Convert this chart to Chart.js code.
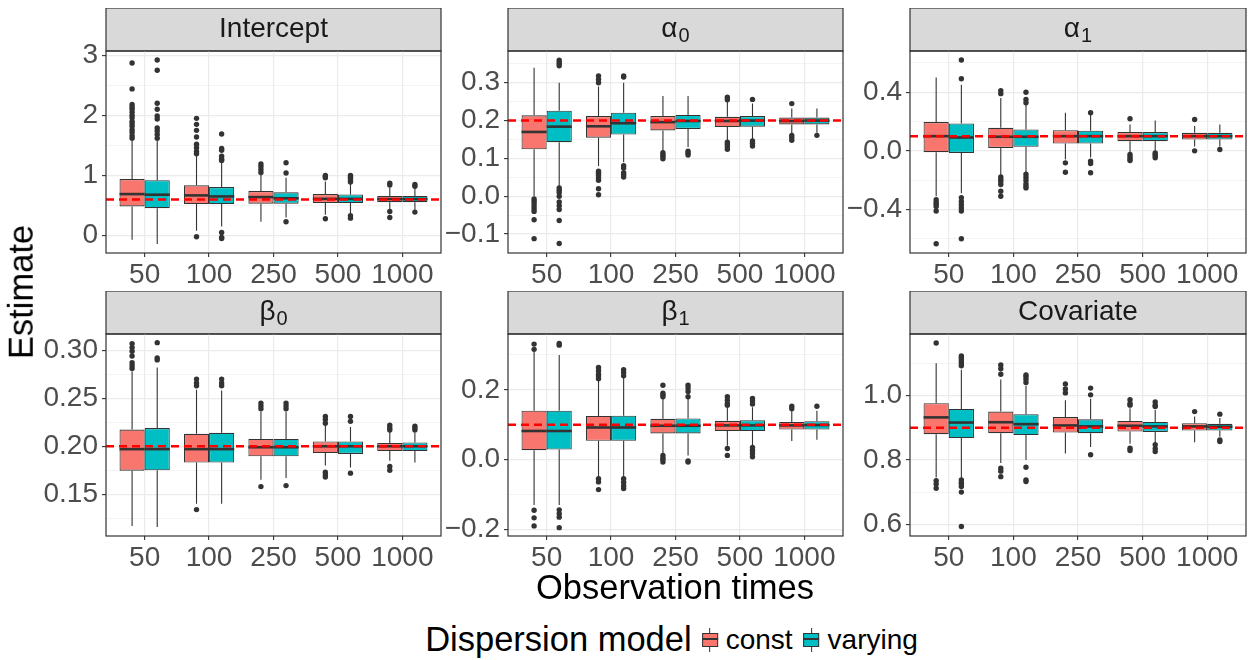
<!DOCTYPE html>
<html>
<head>
<meta charset="utf-8">
<script src="https://cdn.jsdelivr.net/npm/chart.js@4.4.0/dist/chart.umd.min.js"></script>
<style>
  body { margin: 0; background: #fff; width: 1248px; height: 660px; position: relative; overflow: hidden;
         font-family: "Liberation Sans", Arial, sans-serif; }
  canvas { position: absolute; }
  .title { position: absolute; color: #000; font-size: 34.5px; white-space: nowrap; line-height: 1; }
  #legend { position: absolute; left: 675px; top: 620px; transform: translateX(-50%); display: flex;
            align-items: center; white-space: nowrap; }
  #legend .lab { font-size: 28px; color: #000; margin-right: 7px; }
  .key { position: relative; width: 16px; height: 24px; margin: 0 8px 0 4px; }
  .key .wh { position: absolute; left: 7.5px; top: 0; width: 1px; height: 24px; background: #333; }
  .key .bx { position: absolute; left: 0; top: 5px; width: 14px; height: 12px; border: 1px solid #333; }
  .key .md { position: absolute; left: 0; top: 10px; width: 16px; height: 2px; background: #333; }
</style>
</head>
<body>
<div id="plots"></div>
<div class="title" style="left:675px; top:570px; transform: translateX(-50%);">Observation times</div>
<div class="title" style="left:21px; top:292px; transform: translate(-50%,-50%) rotate(-90deg);">Estimate</div>
<div id="legend">
  <span style="font-size:34.5px; margin-right:6px;">Dispersion model</span>
  <div class="key"><div class="wh"></div><div class="bx" style="background:#F8766D"></div><div class="md"></div></div>
  <span class="lab">const</span>
  <div class="key"><div class="wh"></div><div class="bx" style="background:#00BFC4"></div><div class="md"></div></div>
  <span class="lab">varying</span>
</div>

<script>
// --- Data ---
const categories = ['50', '100', '250', '500', '1000'];
const seriesNames = ['const', 'varying'];
const seriesColors = ['#F8766D', '#00BFC4'];

const titleMain = ['Intercept', 'α', 'α', 'β', 'β', 'Covariate'];
const titleSub = ['', '0', '1', '0', '1', ''];
const trueValues = [0.6, 0.2, 0.1, 0.2, 0.1, 0.9];

// axis ranges and ticks
const yMin = [-0.29, -0.150, -0.697, 0.1065, -0.219, 0.5636];
const yMax = [3.07, 0.384, 0.681, 0.317, 0.360, 1.191];
const yMajor = [[0, 1, 2, 3], [-0.1, 0, 0.1, 0.2, 0.3], [-0.4, 0, 0.4],
                [0.15, 0.20, 0.25, 0.30], [-0.2, 0, 0.2], [0.6, 0.8, 1.0]];
const yMajorLabels = [['0', '1', '2', '3'], ['−0.1', '0.0', '0.1', '0.2', '0.3'], ['−0.4', '0.0', '0.4'],
                      ['0.15', '0.20', '0.25', '0.30'], ['−0.2', '0.0', '0.2'], ['0.6', '0.8', '1.0']];
const yMinor = [[0.5, 1.5, 2.5], [-0.05, 0.05, 0.15, 0.25, 0.35], [-0.6, -0.2, 0.2, 0.6],
                [0.125, 0.175, 0.225, 0.275], [-0.1, 0.1, 0.3], [0.7, 0.9, 1.1]];

// box stats per category: [lower whisker, q1, median, q3, upper whisker]
const interceptConst = [[-0.07, 0.484, 0.69, 0.94, 1.60], [0.08, 0.523, 0.668, 0.835, 1.33], [0.23, 0.53, 0.64, 0.74, 1.02],
                        [0.345, 0.54, 0.61, 0.69, 0.90], [0.42, 0.555, 0.607, 0.66, 0.80]];
const interceptVarying = [[-0.14, 0.456, 0.68, 0.92, 1.60], [0.15, 0.523, 0.651, 0.807, 1.23], [0.30, 0.53, 0.62, 0.72, 0.96],
                          [0.37, 0.54, 0.61, 0.685, 0.86], [0.43, 0.555, 0.607, 0.66, 0.80]];
const interceptConstOut = [[2.87, 2.44, 2.18, 2.14, 2.10, 2.05, 2.0, 1.96, 1.90, 1.86, 1.82, 1.76, 1.72, 1.66, 1.62],
                           [1.95, 1.85, 1.75, 1.64, 1.52, 1.46, 1.40, 1.36, -0.02], [1.19, 1.15, 1.10, 1.05],
                           [1.0, 0.98, 0.96, 0.28], [0.87, 0.84, 0.40, 0.30]];
const interceptVaryingOut = [[2.92, 2.75, 2.20, 2.10, 1.99, 1.94, 1.79, 1.74, 1.68, 1.62],
                             [1.69, 1.45, 1.42, 1.32, 1.27, 1.25, 0.05, -0.03, -0.05], [1.21, 1.04, 0.23],
                             [1.0, 0.98, 0.96, 0.94, 0.91, 0.89, 0.33, 0.29], [0.85, 0.82, 0.39]];

const alpha0Const = [[0.0, 0.124, 0.170, 0.214, 0.34], [0.08, 0.155, 0.185, 0.212, 0.29], [0.12, 0.174, 0.196, 0.212, 0.265],
                     [0.145, 0.183, 0.199, 0.210, 0.25], [0.165, 0.19, 0.199, 0.208, 0.232]];
const alpha0Varying = [[0.025, 0.143, 0.184, 0.226, 0.30], [0.09, 0.163, 0.193, 0.221, 0.30], [0.13, 0.178, 0.199, 0.215, 0.265],
                       [0.15, 0.184, 0.200, 0.212, 0.245], [0.168, 0.19, 0.200, 0.208, 0.232]];
const alpha0ConstOut = [[-0.007, -0.013, -0.02, -0.027, -0.034, -0.04, -0.062, -0.112],
                        [0.318, 0.309, 0.30, 0.066, 0.061, 0.055, 0.048, 0.042, 0.02, 0.004],
                        [0.115, 0.11, 0.105, 0.099], [0.262, 0.255, 0.143, 0.137, 0.131, 0.124], [0.245, 0.161, 0.155, 0.148]];
const alpha0VaryingOut = [[0.36, 0.355, 0.35, 0.345, 0.022, 0.016, 0.01, 0.0, -0.015, -0.025, -0.035, -0.064, -0.125],
                          [0.318, 0.315, 0.081, 0.075, 0.062, 0.057, 0.051], [0.119, 0.114, 0.109],
                          [0.256, 0.146, 0.14, 0.133], [0.161]];

const alpha1Const = [[-0.31, -0.009, 0.10, 0.196, 0.50], [-0.17, 0.02, 0.096, 0.157, 0.36], [-0.06, 0.05, 0.10, 0.141, 0.26],
                     [-0.01, 0.066, 0.10, 0.128, 0.18], [0.03, 0.077, 0.10, 0.123, 0.17]];
const alpha1Varying = [[-0.29, -0.014, 0.091, 0.187, 0.45], [-0.15, 0.027, 0.096, 0.146, 0.32], [-0.045, 0.05, 0.10, 0.137, 0.25],
                       [0.0, 0.066, 0.10, 0.128, 0.207], [0.03, 0.077, 0.10, 0.123, 0.18]];
const alpha1ConstOut = [[-0.333, -0.35, -0.365, -0.38, -0.41, -0.634], [0.41, 0.39, -0.178, -0.195, -0.21, -0.23, -0.276, -0.31],
                        [-0.082, -0.146], [0.219, -0.025, -0.04, -0.055, -0.066], [0.214, 0.0]];
const alpha1VaryingOut = [[0.62, 0.492, -0.32, -0.345, -0.368, -0.39, -0.41, -0.60],
                          [0.40, 0.35, 0.328, -0.16, -0.18, -0.2, -0.225, -0.24, -0.253],
                          [0.26, -0.07, -0.086, -0.15], [-0.014, -0.025, -0.036, -0.048], [0.009]];

const beta0Const = [[0.117, 0.1746, 0.197, 0.2174, 0.278], [0.14, 0.183, 0.197, 0.213, 0.259], [0.165, 0.1896, 0.199, 0.2077, 0.236],
                    [0.18, 0.193, 0.200, 0.205, 0.222], [0.185, 0.195, 0.200, 0.2035, 0.215]];
const beta0Varying = [[0.116, 0.175, 0.197, 0.219, 0.282], [0.14, 0.183, 0.197, 0.214, 0.258], [0.167, 0.1896, 0.199, 0.2077, 0.236],
                      [0.178, 0.192, 0.200, 0.205, 0.22], [0.183, 0.195, 0.200, 0.204, 0.214]];
const beta0ConstOut = [[0.307, 0.303, 0.299, 0.294, 0.287, 0.284, 0.281], [0.27, 0.266, 0.263, 0.134],
                       [0.245, 0.242, 0.239, 0.158], [0.231, 0.228, 0.224, 0.173, 0.170, 0.168], [0.222, 0.219, 0.217, 0.179, 0.175]];
const beta0VaryingOut = [[0.308, 0.292, 0.29], [0.27, 0.266, 0.263], [0.245, 0.242, 0.239, 0.159],
                         [0.231, 0.226, 0.172], [0.221, 0.219, 0.217]];

const beta1Const = [[-0.13, 0.027, 0.082, 0.14, 0.31], [-0.05, 0.054, 0.092, 0.125, 0.23], [0.015, 0.075, 0.097, 0.117, 0.18],
                    [0.04, 0.082, 0.098, 0.111, 0.155], [0.053, 0.086, 0.098, 0.108, 0.14]];
const beta1Varying = [[-0.13, 0.029, 0.082, 0.14, 0.30], [-0.05, 0.054, 0.092, 0.126, 0.24], [0.012, 0.075, 0.097, 0.118, 0.18],
                      [0.04, 0.082, 0.098, 0.113, 0.15], [0.057, 0.086, 0.099, 0.11, 0.14]];
const beta1ConstOut = [[0.331, 0.316, -0.145, -0.167, -0.19], [0.264, 0.255, 0.245, 0.24, 0.232, -0.055, -0.064, -0.086],
                       [0.213, 0.19, 0.185, 0.18, 0.012, 0.005, 0.0, -0.007], [0.18, 0.17, 0.16, 0.156, 0.032, 0.012], [0.153, 0.146]];
const beta1VaryingOut = [[0.333, 0.328, -0.144, -0.155, -0.165, -0.195], [0.258, 0.25, 0.24, -0.055, -0.065, -0.075, -0.083],
                         [0.213, 0.205, 0.195, 0.18, -0.004, -0.007], [0.175, 0.168, 0.159, 0.035, 0.027, 0.018, 0.008], [0.153]];

const covariateConst = [[0.745, 0.88, 0.932, 0.976, 1.10], [0.79, 0.883, 0.917, 0.95, 1.05], [0.82, 0.885, 0.907, 0.933, 0.985],
                        [0.85, 0.888, 0.906, 0.921, 0.96], [0.855, 0.891, 0.904, 0.914, 0.935]];
const covariateVarying = [[0.74, 0.868, 0.916, 0.958, 1.08], [0.80, 0.877, 0.911, 0.942, 1.03], [0.84, 0.883, 0.904, 0.926, 0.99],
                          [0.852, 0.887, 0.904, 0.918, 0.955], [0.872, 0.891, 0.903, 0.912, 0.93]];
const covariateConstOut = [[1.163, 0.735, 0.725, 0.712], [1.095, 1.083, 1.066, 0.774, 0.765, 0.748],
                           [1.036, 1.02, 1.008], [0.987, 0.975, 0.97, 0.836, 0.829], [0.95]];
const covariateVaryingOut = [[1.123, 1.118, 1.112, 1.105, 1.098, 1.092, 0.738, 0.73, 0.725, 0.717, 0.70, 0.593],
                             [1.064, 1.058, 1.05, 1.04, 0.777, 0.738, 0.733], [1.023, 1.002, 0.816],
                             [0.98, 0.97, 0.966, 0.847, 0.835, 0.826], [0.942, 0.862, 0.857]];

const boxStats = [
  [interceptConst, interceptVarying], [alpha0Const, alpha0Varying], [alpha1Const, alpha1Varying],
  [beta0Const, beta0Varying], [beta1Const, beta1Varying], [covariateConst, covariateVarying]
];
const outliers = [
  [interceptConstOut, interceptVaryingOut], [alpha0ConstOut, alpha0VaryingOut], [alpha1ConstOut, alpha1VaryingOut],
  [beta0ConstOut, beta0VaryingOut], [beta1ConstOut, beta1VaryingOut], [covariateConstOut, covariateVaryingOut]
];

// --- Layout ---
const plotLeft = [106, 508, 910];
const plotWidth = [335, 335, 336];
const stripTop = [8, 291];
const stripH = 43;
const plotH = 202;
const yAxisW = 75;
const xAxisH = 40;
const boxFrac = 0.78;   // dodge width for the pair of boxes
const FONT = '"Liberation Sans", Arial, sans-serif';

// --- Plugins ---
const panelFrame = {
  id: 'panelFrame',
  beforeDraw(chart, args, opts) {
    const { ctx, chartArea: a } = chart;
    ctx.save();
    ctx.fillStyle = '#D9D9D9';
    ctx.fillRect(a.left, a.top - stripH, a.right - a.left, stripH);
    ctx.strokeStyle = '#333333';
    ctx.lineWidth = 1.2;
    ctx.strokeRect(a.left, a.top - stripH, a.right - a.left, stripH);
    // strip label, with subscript for greek letters
    ctx.fillStyle = '#1A1A1A';
    ctx.textBaseline = 'middle';
    ctx.textAlign = 'left';
    ctx.font = '28px ' + FONT;
    const wMain = ctx.measureText(opts.main).width;
    ctx.font = '20px ' + FONT;
    const wSub = opts.sub ? ctx.measureText(opts.sub).width + 1 : 0;
    const x0 = (a.left + a.right) / 2 - (wMain + wSub) / 2;
    const yc = a.top - stripH / 2;
    ctx.font = '28px ' + FONT;
    ctx.fillText(opts.main, x0, yc);
    if (opts.sub) {
      ctx.font = '20px ' + FONT;
      ctx.fillText(opts.sub, x0 + wMain + 1, yc + 7);
    }
    ctx.restore();
  },
  afterDraw(chart) {
    const { ctx, chartArea: a } = chart;
    ctx.save();
    ctx.strokeStyle = '#333333';
    ctx.lineWidth = 1.2;
    ctx.strokeRect(a.left, a.top, a.right - a.left, a.bottom - a.top);
    ctx.restore();
  }
};

// whiskers under each box, median on top of each box
const boxParts = {
  id: 'boxParts',
  beforeDatasetDraw(chart, args) {
    const ds = chart.data.datasets[args.index];
    if (!ds.stats) return;
    const y = chart.scales.y, ctx = chart.ctx;
    ctx.save();
    ctx.strokeStyle = '#333333';
    ctx.lineWidth = 1.1;
    args.meta.data.forEach((bar, i) => {
      const s = ds.stats[i];
      ctx.beginPath();
      ctx.moveTo(bar.x, y.getPixelForValue(s[0]));
      ctx.lineTo(bar.x, y.getPixelForValue(s[1]));
      ctx.moveTo(bar.x, y.getPixelForValue(s[3]));
      ctx.lineTo(bar.x, y.getPixelForValue(s[4]));
      ctx.stroke();
    });
    ctx.restore();
  },
  afterDatasetDraw(chart, args) {
    const ds = chart.data.datasets[args.index];
    if (!ds.stats) return;
    const y = chart.scales.y, ctx = chart.ctx;
    ctx.save();
    ctx.strokeStyle = '#333333';
    ctx.lineWidth = 2.6;
    args.meta.data.forEach((bar, i) => {
      const py = y.getPixelForValue(ds.stats[i][2]);
      ctx.beginPath();
      ctx.moveTo(bar.x - bar.width / 2, py);
      ctx.lineTo(bar.x + bar.width / 2, py);
      ctx.stroke();
    });
    ctx.restore();
  }
};

// --- Build panels ---
function makePanel(p) {
  const col = p % 3, row = Math.floor(p / 3);
  const canvas = document.createElement('canvas');
  const w = yAxisW + plotWidth[col] + 4;
  const h = stripH + plotH + xAxisH;
  canvas.width = w; canvas.height = h;
  canvas.style.left = (plotLeft[col] - yAxisW) + 'px';
  canvas.style.top = stripTop[row] + 'px';
  canvas.style.width = w + 'px'; canvas.style.height = h + 'px';
  document.getElementById('plots').appendChild(canvas);

  const shift = boxFrac / 4;
  const datasets = [];
  seriesNames.forEach((name, s) => {
    const stats = boxStats[p][s];
    datasets.push({
      type: 'bar',
      label: name,
      stats: stats,
      data: stats.map((st, i) => ({ x: i + 1, y: [st[1], st[3]] })),
      backgroundColor: seriesColors[s],
      borderColor: '#333333',
      borderWidth: 1.1,
      borderSkipped: false,
      categoryPercentage: boxFrac,
      barPercentage: 1,
      order: 2
    });
  });
  seriesNames.forEach((name, s) => {
    const pts = [];
    outliers[p][s].forEach((vals, i) => {
      vals.forEach(v => pts.push({ x: i + 1 + (s === 0 ? -shift : shift), y: v }));
    });
    datasets.push({
      type: 'scatter',
      label: name + ' outliers',
      data: pts,
      backgroundColor: '#333333',
      borderWidth: 0,
      pointRadius: 2.7,
      order: 1
    });
  });
  datasets.push({
    type: 'line',
    label: 'true value',
    data: [{ x: 0.4, y: trueValues[p] }, { x: 5.6, y: trueValues[p] }],
    borderColor: '#FF0000',
    borderWidth: 2.5,
    borderDash: [8, 5],
    pointRadius: 0,
    order: 0
  });

  const majorSet = yMajor[p];
  new Chart(canvas.getContext('2d'), {
    type: 'bar',
    data: { datasets },
    options: {
      responsive: false,
      animation: false,
      events: [],
      layout: { padding: { top: stripH, right: 4, left: 0, bottom: 0 } },
      plugins: {
        legend: { display: false },
        tooltip: { enabled: false },
        panelFrame: { main: titleMain[p], sub: titleSub[p] }
      },
      scales: {
        x: {
          type: 'linear',
          min: 0.4, max: 5.6,
          offset: false,
          afterBuildTicks: axis => { axis.ticks = categories.map((c, i) => ({ value: i + 1 })); },
          afterFit: axis => { axis.height = xAxisH; },
          border: { display: false },
          grid: { offset: false, color: '#EBEBEB', lineWidth: 1.2, tickLength: 4, tickColor: '#333333', tickWidth: 1.1 },
          ticks: {
            autoSkip: false, maxRotation: 0, padding: 1,
            color: '#4D4D4D', font: { size: 28, family: FONT },
            callback: (v, i) => categories[i]
          }
        },
        y: {
          type: 'linear',
          min: yMin[p], max: yMax[p],
          afterBuildTicks: axis => {
            const t = majorSet.map((v, i) => ({ value: v, lab: yMajorLabels[p][i], major: true }))
              .concat(yMinor[p].filter(v => v > yMin[p] && v < yMax[p]).map(v => ({ value: v, lab: '', major: false })));
            t.sort((a, b) => a.value - b.value);
            axis.ticks = t;
          },
          afterFit: axis => { axis.width = yAxisW; },
          border: { display: false },
          grid: {
            color: '#EBEBEB',
            lineWidth: c => (c.tick && c.tick.major ? 1.2 : 0.6),
            tickLength: 4,
            tickColor: c => (c.tick && c.tick.major ? '#333333' : 'rgba(0,0,0,0)'),
            tickWidth: 1.1
          },
          ticks: {
            autoSkip: false, padding: 4,
            color: '#4D4D4D', font: { size: 28, family: FONT },
            callback: (v, i, ticks) => ticks[i].lab
          }
        }
      }
    },
    plugins: [panelFrame, boxParts]
  });
}

for (let p = 0; p < 6; p++) makePanel(p);
</script>
</body>
</html>
